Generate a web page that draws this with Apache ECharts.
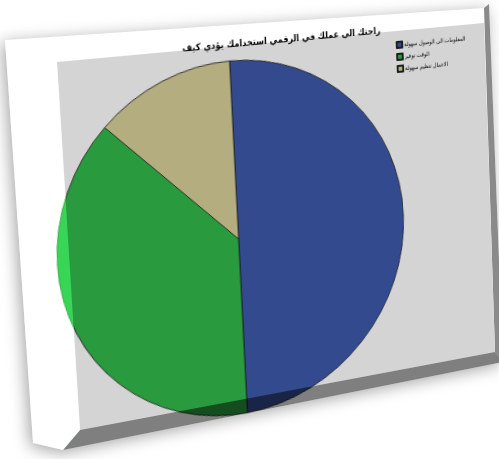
<!DOCTYPE html>
<html>
<head>
<meta charset="utf-8">
<script src="https://cdn.jsdelivr.net/npm/echarts@6/dist/echarts.min.js"></script>
<style>
  html, body { margin: 0; padding: 0; background: #fff; }
  #stage { position: relative; width: 499px; height: 459px; overflow: hidden; background: #fff; }
  .layer { position: absolute; left: 0; top: 0; pointer-events: none; }
  #frame, #shade, #lift { width: 499px; height: 459px; }
  #chart { width: 540px; height: 480px; transform-origin: 0 0; }
  #lift { mix-blend-mode: screen; }
</style>
</head>
<body>
<div id="stage">
  <div id="frame" class="layer"></div>
  <div id="chart" class="layer"></div>
  <div id="shade" class="layer"></div>
  <div id="lift" class="layer"></div>
</div>
<script>
// ---- chart content ----
const chartTitle = 'راحتك الى عملك في الرقمي استخدامك يؤدي كيف';
const categories = ['المعلومات الى الوصول سهولة', 'الوقت توفير', 'الاعمال تنظيم سهولة'];
const shares = [50, 37.5, 12.5];
const sliceColors = ['#334a8f', '#299a3d', '#b3ad80'];

// ---- flat layout of the chart sheet ----
const FONT = 'DejaVu Sans Condensed, DejaVu Sans';
const plotBox = { x: 60, y: 50, w: 430, h: 344 };

// where the plot corners land on the tilted sheet (TL, TR, BR, BL)
const plotQuad = [[57, 62], [484, 23], [495, 352], [80, 430]];

// tilted sheet: white page, side face and bottom face
const pageOutline = [[5, 40], [484, 8], [489, 4], [503, 362], [63, 450], [33, 443]];
const rightFace = [[484, 8], [489, 4], [503, 362], [495, 352]];
const bottomFace = [[80, 430], [495, 352], [503, 362], [63, 450]];
const leftMargin = [[5, 40], [57, 62], [80, 430], [63, 450], [33, 443]];

// projective map of the flat plot rectangle onto plotQuad, as a CSS matrix3d
function sheetTransform(box, q) {
  const [x0, y0] = q[0], [x1, y1] = q[1], [x2, y2] = q[2], [x3, y3] = q[3];
  const dx1 = x1 - x2, dx2 = x3 - x2, dx3 = x0 - x1 + x2 - x3;
  const dy1 = y1 - y2, dy2 = y3 - y2, dy3 = y0 - y1 + y2 - y3;
  const den = dx1 * dy2 - dx2 * dy1;
  const g = (dx3 * dy2 - dx2 * dy3) / den;
  const h = (dx1 * dy3 - dx3 * dy1) / den;
  const a = x1 - x0 + g * x1, b = x3 - x0 + h * x3, c = x0;
  const d = y1 - y0 + g * y1, e = y3 - y0 + h * y3, f = y0;
  const W = box.w, H = box.h, ox = box.x, oy = box.y;
  const A = a / W, B = b / H, C = c - a * ox / W - b * oy / H;
  const D = d / W, E = e / H, F = f - d * ox / W - e * oy / H;
  const G = g / W, Hh = h / H, I = 1 - g * ox / W - h * oy / H;
  return `matrix3d(${A},${D},0,${G},${B},${E},0,${Hh},0,0,1,0,${C},${F},0,${I})`;
}

// ---- sheet behind the chart ----
const frame = echarts.init(document.getElementById('frame'), null, { width: 499, height: 459, renderer: 'canvas' });
frame.setOption({
  animation: false,
  backgroundColor: '#ffffff',
  graphic: [
    { type: 'polygon', silent: true, shape: { points: pageOutline },
      style: { fill: '#ffffff', shadowBlur: 16, shadowColor: 'rgba(0,0,0,0.35)', shadowOffsetX: -3, shadowOffsetY: 3 } },
    { type: 'polygon', silent: true, shape: { points: rightFace }, style: { fill: '#8a8a8a' } }
  ]
});

// ---- the pie chart itself, drawn flat then tilted ----
const chartEl = document.getElementById('chart');
chartEl.style.transform = sheetTransform(plotBox, plotQuad);
const chart = echarts.init(chartEl, null, { width: 540, height: 480, renderer: 'canvas' });
chart.setOption({
  animation: false,
  title: {
    text: chartTitle,
    left: 271,
    top: 39,
    textAlign: 'center',
    textStyle: { fontFamily: FONT, fontSize: 9, fontWeight: 'bold', color: '#000' }
  },
  legend: {
    orient: 'vertical',
    left: 392,
    top: 60,
    padding: 0,
    itemWidth: 6,
    itemHeight: 6,
    itemGap: 4,
    icon: 'rect',
    selectedMode: false,
    textStyle: { fontFamily: FONT, fontSize: 6, color: '#000', padding: [0, 0, 0, -3] },
    data: categories
  },
  graphic: [
    { type: 'rect', silent: true, z: -5,
      shape: { x: plotBox.x, y: plotBox.y, width: plotBox.w, height: plotBox.h },
      style: { fill: '#d4d4d4' } }
  ],
  series: [{
    type: 'pie',
    center: [221, 236],
    radius: 172,
    startAngle: 90,
    clockwise: true,
    silent: true,
    label: { show: false },
    labelLine: { show: false },
    itemStyle: { borderColor: '#1c1c1c', borderWidth: 0.8 },
    data: categories.map((name, i) => ({ name, value: shares[i], itemStyle: { color: sliceColors[i] } }))
  }]
});

// ---- bottom face darkens whatever overhangs it ----
const shade = echarts.init(document.getElementById('shade'), null, { width: 499, height: 459, renderer: 'canvas' });
shade.setOption({
  animation: false,
  graphic: [
    { type: 'polygon', silent: true, shape: { points: bottomFace }, style: { fill: 'rgba(0,0,0,0.5)' } }
  ]
});

// ---- white margin lights up the overhanging slice ----
const lift = echarts.init(document.getElementById('lift'), null, { width: 499, height: 459, renderer: 'canvas' });
lift.setOption({
  animation: false,
  graphic: [
    { type: 'polygon', silent: true, shape: { points: leftMargin }, style: { fill: 'rgb(17,151,34)' } }
  ]
});
</script>
</body>
</html>
